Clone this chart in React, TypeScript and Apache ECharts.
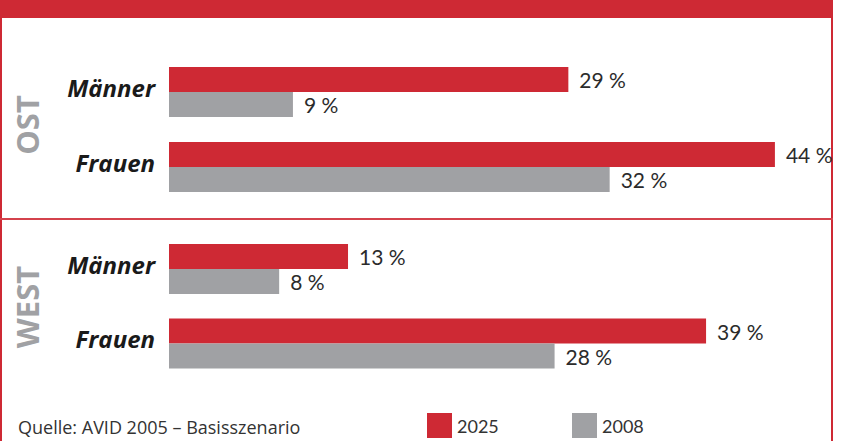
import React, { useEffect, useRef } from "react";
import * as echarts from "echarts";

const categories = ["Männer", "Frauen"];
const regions = ["OST", "WEST"];
const ost2025 = [29, 44];
const ost2008 = [9, 32];
const west2025 = [13, 39];
const west2008 = [8, 28];
const seriesNames = ["2025", "2008"];
const source = "Quelle: AVID 2005 – Basisszenario";

const RED = "#ce2934";
const GRAY = "#a0a1a4";
const FONT = "Lato";
const FONT2 = "Open Sans";

export default function App() {
  const ref = useRef<HTMLDivElement>(null);
  useEffect(() => {
    if (!ref.current) return;
    const chart = echarts.init(ref.current, null, { renderer: "svg" });
    const labelCfg = {
      show: true,
      position: "right",
      distance: 11,
      formatter: "{c} %",
      color: "#2b2b2b",
      fontSize: 21,
      fontFamily: FONT,
    };
    const mkSeries = (name: string, data: number[], idx: number, color: string) => ({
      name,
      type: "bar",
      xAxisIndex: idx,
      yAxisIndex: idx,
      data,
      barWidth: 25,
      barGap: "0%",
      itemStyle: { color },
      label: labelCfg,
    });
    const yAx = (idx: number) => ({
      type: "category",
      gridIndex: idx,
      data: categories,
      inverse: true,
      axisLine: { show: false },
      axisTick: { show: false },
      axisLabel: {
        margin: 14,
        formatter: (v: string) => `{c|${v}}`,
        rich: {
          c: {
            fontSize: 24,
            fontWeight: "bold",
            fontStyle: "italic",
            color: "#1a1a1a",
            fontFamily: FONT2,
            padding: [0, 0, 10, 0],
          },
        },
      },
    });
    const xAx = (idx: number) => ({
      type: "value",
      gridIndex: idx,
      min: 0,
      max: 48,
      show: false,
    });
    const legendCommon = {
      top: 413,
      padding: 0,
      itemWidth: 25,
      itemHeight: 25,
      itemTextGap: 9,
      icon: "rect",
      textStyle: { fontSize: 18, color: "#333", fontFamily: FONT },
    };
    chart.setOption({
      animation: false,
      grid: [
        { left: 169, width: 661, top: 54.5, height: 150 },
        { left: 169, width: 661, top: 231.75, height: 149 },
      ],
      xAxis: [xAx(0), xAx(1)],
      yAxis: [yAx(0), yAx(1)],
      legend: [
        { ...legendCommon, left: 427, data: [seriesNames[0]] },
        { ...legendCommon, left: 572, data: [seriesNames[1]] },
      ],
      series: [
        mkSeries(seriesNames[0], ost2025, 0, RED),
        mkSeries(seriesNames[1], ost2008, 0, GRAY),
        mkSeries(seriesNames[0], west2025, 1, RED),
        mkSeries(seriesNames[1], west2008, 1, GRAY),
      ],
      graphic: [
        { type: "rect", shape: { x: 0, y: 0, width: 833, height: 18 }, style: { fill: RED } },
        { type: "rect", shape: { x: 0, y: 0, width: 2, height: 441 }, style: { fill: RED } },
        { type: "rect", shape: { x: 831, y: 0, width: 2, height: 441 }, style: { fill: RED } },
        { type: "rect", shape: { x: 0, y: 218, width: 833, height: 2 }, style: { fill: "#d4424c" } },
        {
          type: "text",
          x: 27,
          y: 125,
          rotation: Math.PI / 2,
          style: {
            text: regions[0],
            fill: GRAY,
            font: `bold 31px ${FONT2}`,
            align: "center",
            verticalAlign: "middle",
          },
        },
        {
          type: "text",
          x: 27,
          y: 307,
          rotation: Math.PI / 2,
          style: {
            text: regions[1],
            fill: GRAY,
            font: `bold 31px ${FONT2}`,
            align: "center",
            verticalAlign: "middle",
          },
        },
        {
          type: "text",
          x: 18,
          y: 427,
          style: {
            text: source,
            fill: "#333",
            font: `18px ${FONT2}`,
            verticalAlign: "middle",
          },
        },
      ],
    });
    return () => chart.dispose();
  }, []);
  return (
    <div
      ref={ref}
      style={{ position: "absolute", left: 0, top: 0, width: 841, height: 441, background: "#fff" }}
    />
  );
}
